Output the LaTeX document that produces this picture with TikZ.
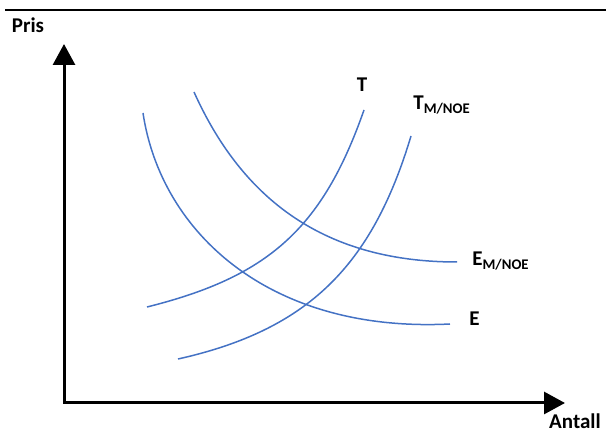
\documentclass[tikz,border=0pt]{standalone}
\usepackage{fontspec}
\setmainfont{Carlito}
\usetikzlibrary{arrows.meta}
\definecolor{blaa}{HTML}{4472C4}

\begin{document}
\begin{tikzpicture}[
    x=0.5pt, y=-0.5pt,
    akse/.style={line width=1.5pt, line join=miter, {Triangle[length=10.5pt, width=11pt]}-{Triangle[length=10.5pt, width=11pt]}},
    kurve/.style={blaa, line width=0.75pt},
    etikett/.style={font=\fontsize{10.5}{12}\selectfont\bfseries, inner sep=0pt}
]
\useasboundingbox (0,0) rectangle (606,432);

% Linje øverst
\draw[line width=1pt] (5,10) -- (606,10);

% Akser
\coordinate (ytopp) at (64,44);
\coordinate (origo) at (64,403);
\coordinate (xslutt) at (565,403);
\draw[akse] (ytopp) -- (origo) -- (xslutt);
\node[etikett] (pris) at (28,25) {Pris};
\node[etikett] (antall) at (575,421) {Antall};

% Etterspørsel
\draw[kurve] (143,113) .. controls (161,233) and (270,333) .. (450,324);
\draw[kurve] (194,92) .. controls (239,192) and (317,262) .. (457,262);

% Tilbud
\draw[kurve] (147,307) .. controls (267,277) and (322,230) .. (364,110);
\draw[kurve] (178,359) .. controls (308,330) and (372,266) .. (411,136);

% Kurvenavn
\node[etikett] (t) at (362,85) {T};
\node[etikett, anchor=west] (tm) at (413,105) {T\textsubscript{M/NOE}};
\node[etikett, anchor=west] (em) at (472,261) {E\textsubscript{M/NOE}};
\node[etikett, anchor=west] (e) at (469,319) {E};

\end{tikzpicture}
\end{document}
